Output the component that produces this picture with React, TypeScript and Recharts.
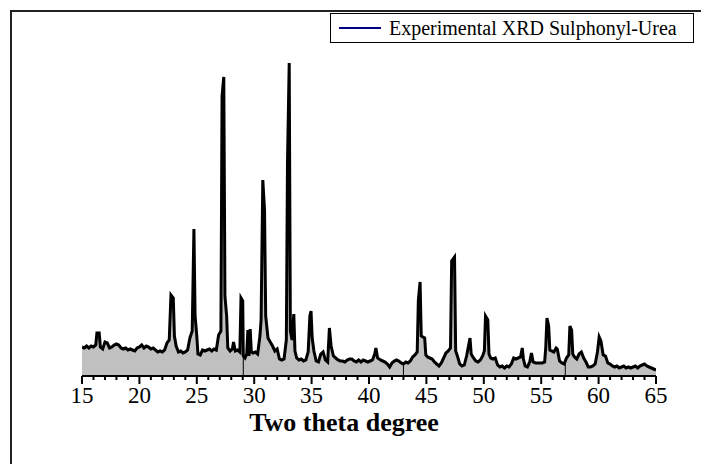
import { AreaChart, Area, XAxis, YAxis, ReferenceLine } from "recharts";

// diffractogram (intensity in arbitrary units)
const twoTheta = [
  15.0, 15.2, 15.4, 15.6, 15.8, 16.0, 16.2, 16.3, 16.5, 16.6, 16.8, 17.0, 17.2, 17.4, 17.6, 17.8,
  18.0, 18.2, 18.4, 18.6, 18.8, 19.0, 19.2, 19.4, 19.6, 19.8, 20.0, 20.2, 20.4, 20.6, 20.8, 21.0,
  21.2, 21.4, 21.6, 21.8, 22.0, 22.2, 22.4, 22.6, 22.75, 22.95, 23.05, 23.2, 23.4, 23.6, 23.8, 24.0,
  24.2, 24.4, 24.6, 24.75, 24.85, 25.0, 25.1, 25.3, 25.5, 25.7, 25.9, 26.1, 26.3, 26.5, 26.7, 26.9,
  27.1, 27.2, 27.35, 27.45, 27.6, 27.7, 27.9, 28.1, 28.2, 28.35, 28.55, 28.75, 28.85, 29.0, 29.05, 29.2,
  29.35, 29.45, 29.55, 29.65, 29.75, 29.9, 30.1, 30.3, 30.5, 30.6, 30.75, 30.9, 31.0, 31.2, 31.4, 31.6,
  31.8, 32.0, 32.2, 32.4, 32.6, 32.8, 32.9, 33.05, 33.15, 33.3, 33.45, 33.55, 33.7, 33.9, 34.1, 34.3,
  34.5, 34.7, 34.85, 34.95, 35.05, 35.2, 35.4, 35.6, 35.8, 36.0, 36.2, 36.4, 36.55, 36.7, 36.9, 37.1,
  37.3, 37.5, 37.7, 37.9, 38.1, 38.3, 38.5, 38.7, 38.9, 39.1, 39.3, 39.5, 39.7, 39.9, 40.1, 40.3,
  40.5, 40.6, 40.75, 41.0, 41.2, 41.4, 41.6, 41.8, 42.0, 42.2, 42.4, 42.6, 42.8, 43.0, 43.2, 43.4,
  43.6, 43.8, 44.0, 44.2, 44.3, 44.45, 44.55, 44.7, 44.85, 44.95, 45.1, 45.3, 45.5, 45.7, 45.9, 46.1,
  46.3, 46.5, 46.7, 46.9, 47.1, 47.2, 47.45, 47.55, 47.7, 47.9, 48.1, 48.3, 48.5, 48.65, 48.8, 48.9,
  49.1, 49.3, 49.5, 49.7, 49.9, 50.05, 50.15, 50.35, 50.45, 50.6, 50.8, 51.0, 51.2, 51.4, 51.6, 51.8,
  52.0, 52.2, 52.4, 52.6, 52.8, 53.0, 53.2, 53.35, 53.45, 53.6, 53.8, 54.0, 54.15, 54.3, 54.5, 54.7,
  54.9, 55.1, 55.3, 55.4, 55.5, 55.65, 55.75, 55.9, 56.1, 56.3, 56.4, 56.6, 56.8, 57.0, 57.2, 57.4,
  57.5, 57.65, 57.75, 57.9, 58.1, 58.3, 58.5, 58.7, 58.9, 59.1, 59.3, 59.5, 59.7, 59.9, 60.05, 60.2,
  60.4, 60.6, 60.8, 61.0, 61.2, 61.4, 61.6, 61.8, 62.0, 62.2, 62.4, 62.6, 62.8, 63.0, 63.2, 63.4,
  63.6, 63.8, 64.0, 64.2, 64.4, 64.6, 64.8, 65.0,
];

const intensity = [
  29, 28, 30, 28, 30, 29, 31, 43, 43, 29, 27, 34, 33, 28, 29, 31,
  32, 31, 28, 27, 28, 26, 27, 26, 25, 28, 29, 31, 28, 30, 29, 27,
  28, 26, 24, 25, 24, 26, 33, 36, 81, 78, 40, 30, 24, 25, 23, 24,
  26, 38, 45, 147, 60, 40, 22, 21, 26, 25, 26, 27, 25, 27, 26, 41,
  45, 280, 299, 80, 60, 28, 25, 27, 34, 25, 26, 24, 78, 75, 20, 18,
  22, 46, 20, 47, 24, 23, 24, 22, 40, 56, 196, 166, 60, 38, 34, 30,
  25, 27, 17, 16, 17, 36, 213, 313, 45, 36, 62, 25, 18, 16, 17, 15,
  16, 24, 60, 65, 38, 25, 15, 14, 22, 24, 16, 14, 48, 30, 20, 18,
  16, 15, 15, 14, 16, 17, 17, 15, 14, 16, 14, 16, 15, 14, 15, 16,
  22, 28, 18, 16, 15, 14, 12, 9, 13, 15, 16, 15, 13, 12, 14, 13,
  15, 19, 21, 24, 76, 94, 40, 39, 38, 21, 19, 18, 17, 14, 12, 10,
  13, 18, 23, 25, 28, 115, 119, 25, 20, 12, 10, 11, 20, 29, 38, 22,
  18, 15, 14, 16, 20, 25, 60, 56, 22, 18, 17, 18, 11, 9, 10, 8,
  10, 9, 12, 18, 17, 18, 19, 28, 17, 10, 9, 14, 23, 14, 13, 13,
  13, 13, 14, 29, 58, 50, 26, 25, 24, 28, 27, 15, 13, 12, 18, 21,
  50, 46, 22, 19, 17, 22, 24, 18, 14, 9, 9, 10, 12, 24, 39, 35,
  21, 20, 13, 12, 10, 9, 10, 8, 9, 10, 8, 9, 8, 9, 10, 8,
  10, 11, 12, 10, 9, 8, 7, 6,
];

const xTicks = [
  15, 16, 17, 18, 19, 20, 21, 22, 23, 24, 25, 26, 27, 28, 29, 30, 31, 32, 33, 34, 35, 36, 37, 38, 39, 40,
  41, 42, 43, 44, 45, 46, 47, 48, 49, 50, 51, 52, 53, 54, 55, 56, 57, 58, 59, 60, 61, 62, 63, 64, 65,
];
const xLabels = [15, 20, 25, 30, 35, 40, 45, 50, 55, 60, 65];

// thin segment joins visible inside the filled area
const joinAt = [29.05, 43.0, 57.1];
const joinTop = [19, 12, 16];

const data = twoTheta.map((t, i) => ({ t, y: intensity[i] }));

const serif = "'Liberation Serif', 'Times New Roman', serif";

function AxisTick({ x, y, payload }: any) {
  const major = xLabels.includes(payload.value);
  return (
    <g>
      <line x1={x} x2={x} y1={y} y2={y + (major ? 8 : 4)} stroke="#000" strokeWidth={2} />
      {major && (
        <text x={x} y={y + 27} textAnchor="middle" fontSize={23} style={{ fontFamily: serif }} fill="#000">
          {payload.value}
        </text>
      )}
    </g>
  );
}

function LegendBox() {
  return (
    <div
      style={{
        position: "absolute",
        left: 330,
        top: 13,
        width: 362,
        height: 28,
        border: "1px solid #000",
        background: "#fff",
        display: "flex",
        alignItems: "center",
        fontFamily: serif,
        fontSize: 20,
        color: "#000",
      }}
    >
      <span style={{ display: "inline-block", width: 42, height: 2, background: "#000080", marginLeft: 8, marginRight: 8 }} />
      <span style={{ whiteSpace: "nowrap" }}>Experimental XRD Sulphonyl-Urea</span>
    </div>
  );
}

export default function App() {
  return (
    <div style={{ position: "relative", width: 709, height: 464, margin: "-8px 0 0 -8px", overflow: "hidden", background: "#fff" }}>
      <div
        style={{
          position: "absolute",
          left: 10,
          top: 10,
          width: 900,
          height: 900,
          borderTop: "2px solid #222",
          borderLeft: "2px solid #222",
        }}
      />
      <div style={{ position: "absolute", left: 0, top: 0 }}>
        <AreaChart width={709} height={464} data={data} margin={{ top: 63, right: 53, left: 82, bottom: 48 }}>
          <XAxis
            dataKey="t"
            type="number"
            domain={[15, 65]}
            ticks={xTicks}
            interval={0}
            height={40}
            tickSize={0}
            tickMargin={0}
            tick={<AxisTick />}
            axisLine={{ stroke: "#000", strokeWidth: 2 }}
            tickLine={false}
            allowDataOverflow
          />
          <YAxis type="number" domain={[0, 313]} hide width={0} allowDataOverflow />
          <Area
            type="linear"
            dataKey="y"
            stroke="#000"
            strokeWidth={3}
            strokeLinejoin="miter"
            fill="#c0c0c0"
            fillOpacity={1}
            isAnimationActive={false}
            dot={false}
            activeDot={false}
          />
          {joinAt.map((x, i) => (
            <ReferenceLine
              key={x}
              segment={[{ x, y: 0 }, { x, y: joinTop[i] }]}
              stroke="#000"
              strokeWidth={1}
            />
          ))}
        </AreaChart>
      </div>
      <LegendBox />
      <div
        style={{
          position: "absolute",
          left: 0,
          width: 688,
          top: 410,
          lineHeight: "26px",
          textAlign: "center",
          fontFamily: serif,
          fontWeight: "bold",
          fontSize: 26,
          color: "#000",
        }}
      >
        Two theta degree
      </div>
    </div>
  );
}
